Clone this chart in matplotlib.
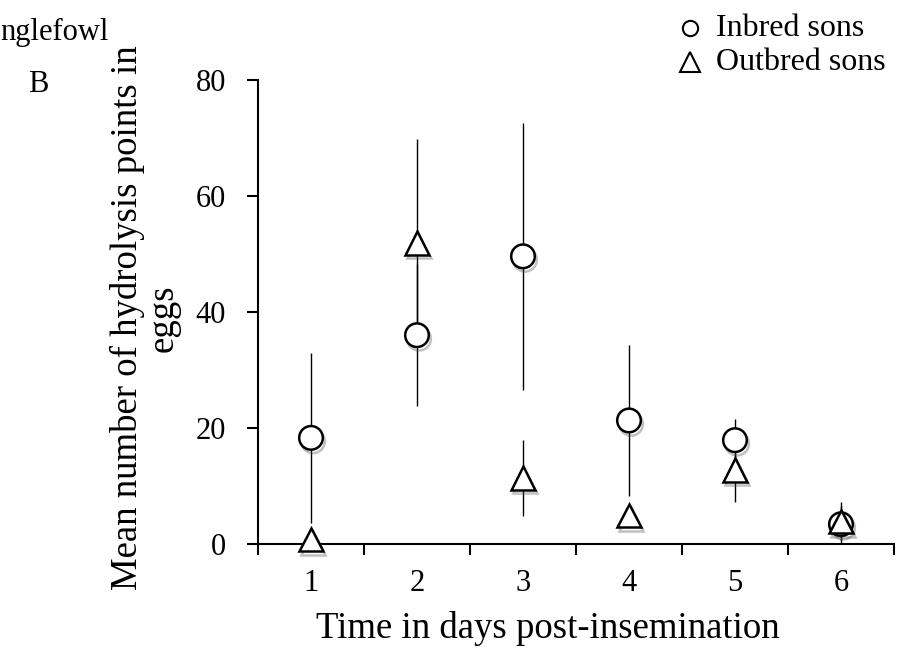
import matplotlib.pyplot as plt
import matplotlib.patheffects as pe
from matplotlib.lines import Line2D
from matplotlib.ticker import FixedLocator

plt.rcParams['font.family'] = ['Liberation Serif', 'DejaVu Serif']

# ---- data: mean hydrolysis points and error half-widths per day ----
days = [1, 2, 3, 4, 5, 6]
inbred_mean = [18.3, 36.0, 49.6, 21.3, 17.9, 3.4]
inbred_err = [14.7, 12.2, 23.0, 13.0, 3.6, 3.2]
outbred_mean = [0.8, 51.9, 11.4, 4.9, 12.8, 3.9]
outbred_err = [0.0, 18.0, 6.5, 0.8, 5.6, 3.4]
series_names = ['Inbred sons', 'Outbred sons']

fig = plt.figure(figsize=(8.99, 6.51), dpi=100)
ax = fig.add_axes([258 / 899, (651 - 544) / 651, (894 - 258) / 899, (544 - 80) / 651])

shadow = [pe.SimpleLineShadow(offset=(1.5, -2.5), shadow_color='0.3', alpha=0.35), pe.Normal()]

ax.errorbar(days, outbred_mean, yerr=outbred_err, fmt='none', ecolor='black',
            elinewidth=1.0, capsize=0, zorder=2)
ax.errorbar(days, inbred_mean, yerr=inbred_err, fmt='none', ecolor='black',
            elinewidth=1.0, capsize=0, zorder=2)
ax.plot(days, inbred_mean, linestyle='none', marker='o', markersize=17,
        markerfacecolor='white', markeredgecolor='black', markeredgewidth=1.8,
        zorder=3, path_effects=shadow, clip_on=False)
ax.plot(days, outbred_mean, linestyle='none', marker='^', markersize=17,
        markerfacecolor='white', markeredgecolor='black', markeredgewidth=1.8,
        zorder=4, path_effects=shadow, clip_on=False)

ax.set_xlim(0.5, 6.5)
ax.set_ylim(0, 80)
ax.set_yticks([0, 20, 40, 60, 80])
ax.set_xticks(days)
ax.xaxis.set_minor_locator(FixedLocator([0.5, 1.5, 2.5, 3.5, 4.5, 5.5, 6.5]))
ax.tick_params(axis='x', which='major', length=0, labelsize=22, pad=18)
ax.tick_params(axis='x', which='minor', length=8, width=1.5, direction='out')
ax.tick_params(axis='y', length=8, width=1.5, direction='out', labelsize=22, pad=15)

for side in ['top', 'right']:
    ax.spines[side].set_visible(False)
for side in ['left', 'bottom']:
    ax.spines[side].set_linewidth(1.5)

ax.set_xlabel('Time in days post-insemination', fontsize=26.5)
ax.xaxis.set_label_coords(0.456, -0.145)
ax.set_ylabel('Mean number of hydrolysis points in\neggs', fontsize=26.5,
              linespacing=1.05)
ax.yaxis.set_label_coords(-0.122, 0.487)

fig.text(0.0, 1 - 32 / 651, 'nglefowl', fontsize=22, ha='left', va='center')
fig.text(38 / 899, 1 - 85 / 651, 'B', fontsize=22, ha='center', va='center')

# legend drawn in figure coordinates
legend_markers = ['o', '^']
legend_sizes = [11, 14]
legend_rows = [28, 62]
for name, mk, ms, yrow in zip(series_names, legend_markers, legend_sizes, legend_rows):
    fig.add_artist(Line2D([690 / 899], [1 - yrow / 651], transform=fig.transFigure,
                          linestyle='none', marker=mk, markersize=ms,
                          markerfacecolor='white', markeredgecolor='black',
                          markeredgewidth=1.5))
    fig.text(716 / 899, 1 - yrow / 651, name, fontsize=23, ha='left', va='center')

fig.savefig('out.png', dpi=100)
